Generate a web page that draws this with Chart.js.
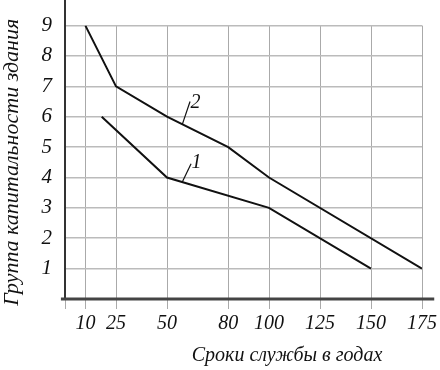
<!DOCTYPE html>
<html>
<head>
<meta charset="utf-8">
<script src="https://cdn.jsdelivr.net/npm/chart.js@4"></script>
<style>
  body { margin: 0; background: #fff; }
</style>
</head>
<body>
<canvas id="chart" width="440" height="370"></canvas>
<script>
// service life (years) vs building capital group
const xTicks = [0, 10, 25, 50, 80, 100, 125, 150, 175];
const line1X = [18, 50, 100, 150];
const line1Y = [6, 4, 3, 1];
const line2X = [10, 25, 50, 80, 100, 175];
const line2Y = [9, 7, 6, 5, 4, 1];

// curve labels and their leader lines (data coords)
const curveNames = ['1', '2'];
const nameX = [63.5, 63];
const nameY = [4.5, 6.45];
const leaderFrom = [[57.5, 3.85], [57.5, 5.75]];
const leaderTo = [[61.8, 4.45], [61.3, 6.5]];

const xTitle = 'Сроки службы в годах';
const yTitle = 'Группа капитальности здания';

const serif = 'Liberation Serif, Times New Roman, serif';

const extras = {
  id: 'extras',
  afterDraw(chart) {
    const ctx = chart.ctx;
    const xs = chart.scales.x, ys = chart.scales.y;
    ctx.save();
    // axis lines running past the grid
    ctx.strokeStyle = '#333';
    ctx.lineWidth = 2;
    ctx.beginPath();
    ctx.moveTo(xs.getPixelForValue(0), ys.getPixelForValue(0));
    ctx.lineTo(xs.getPixelForValue(0), 0);
    ctx.stroke();
    ctx.strokeStyle = '#444';
    ctx.lineWidth = 3;
    ctx.beginPath();
    ctx.moveTo(xs.getPixelForValue(-2), ys.getPixelForValue(0));
    ctx.lineTo(xs.getPixelForValue(181), ys.getPixelForValue(0));
    ctx.stroke();

    // leader lines + curve numbers
    ctx.strokeStyle = '#111';
    ctx.lineWidth = 1.2;
    ctx.fillStyle = '#111';
    ctx.font = 'italic 20px ' + serif;
    ctx.textAlign = 'center';
    ctx.textBaseline = 'middle';
    curveNames.forEach((name, i) => {
      ctx.beginPath();
      ctx.moveTo(xs.getPixelForValue(leaderFrom[i][0]), ys.getPixelForValue(leaderFrom[i][1]));
      ctx.lineTo(xs.getPixelForValue(leaderTo[i][0]), ys.getPixelForValue(leaderTo[i][1]));
      ctx.stroke();
      ctx.fillText(name, xs.getPixelForValue(nameX[i]) + 2, ys.getPixelForValue(nameY[i]));
    });

    // x axis title
    ctx.font = 'italic 20px ' + serif;
    ctx.fillText(xTitle, 287, 356);
    ctx.restore();
  }
};

new Chart(document.getElementById('chart'), {
  type: 'line',
  data: {
    datasets: [
      {
        label: '1',
        data: line1X.map((x, i) => ({ x, y: line1Y[i] })),
        borderColor: '#111', borderWidth: 2, pointRadius: 0, tension: 0
      },
      {
        label: '2',
        data: line2X.map((x, i) => ({ x, y: line2Y[i] })),
        borderColor: '#111', borderWidth: 2, pointRadius: 0, tension: 0
      }
    ]
  },
  options: {
    responsive: false,
    animation: false,
    layout: { padding: { top: 21, right: 15, left: 0, bottom: 0 } },
    plugins: { legend: { display: false }, tooltip: { enabled: false } },
    scales: {
      x: {
        type: 'linear',
        min: 0,
        max: 175,
        afterFit: s => { s.height = 71; },
        afterBuildTicks: s => { s.ticks = xTicks.map(v => ({ value: v })); },
        grid: { color: '#aaa', lineWidth: 1, tickLength: 10 },
        border: { display: false },
        ticks: {
          autoSkip: false,
          maxRotation: 0,
          padding: 3,
          color: '#111',
          font: { family: serif, style: 'italic', size: 20 },
          callback: v => (v === 0 ? '' : v)
        }
      },
      y: {
        min: 0,
        max: 9,
        afterFit: s => { s.width = 65; },
        grid: { color: '#bbb', lineWidth: 1.5, drawTicks: false },
        border: { display: false },
        ticks: {
          stepSize: 1,
          padding: 13,
          color: '#111',
          font: { family: serif, style: 'italic', size: 21 },
          callback: v => (v === 0 ? '' : v)
        },
        title: {
          display: true,
          text: yTitle,
          color: '#111',
          padding: { top: -1, bottom: 0 },
          font: { family: serif, style: 'italic', size: 22 }
        }
      }
    }
  },
  plugins: [extras]
});
</script>
</body>
</html>
